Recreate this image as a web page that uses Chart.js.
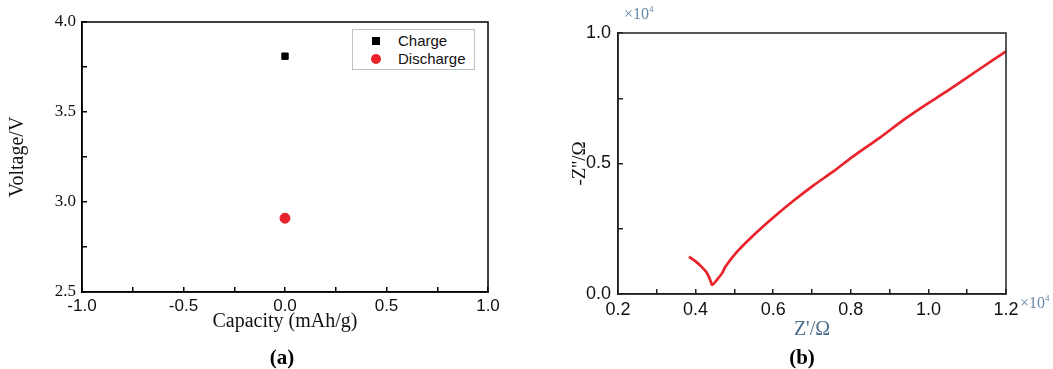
<!DOCTYPE html>
<html>
<head>
<meta charset="utf-8">
<script src="https://cdn.jsdelivr.net/npm/chart.js@4.4.1/dist/chart.umd.min.js"></script>
<style>
  body { margin: 0; background: #fff; width: 1053px; height: 369px; position: relative; overflow: hidden; }
  .panel { position: absolute; top: 0; height: 369px; }
  #wrapA { left: 0; width: 525px; }
  #wrapB { left: 525px; width: 528px; }
  .txt { position: absolute; font-family: "Liberation Serif", serif; white-space: nowrap; }
  .cap { font-weight: bold; font-size: 21px; transform: translate(-50%, -50%); }
  .mult { font-size: 16px; color: #6a88a6; }
  .mult sup { font-size: 9px; vertical-align: 7px; }
  #legend { position: absolute; left: 352px; top: 29px; width: 121px; height: 39px; border: 1px solid #b9c1c9; background: #fff;
            font-family: "Liberation Sans", Arial, sans-serif; font-size: 15px; color: #111; }
  #legend .row { position: absolute; left: 0; height: 18px; line-height: 18px; }
  #legend .mk { position: absolute; left: 19px; top: 5px; width: 8px; height: 8px; }
  #legend .lab { position: absolute; left: 45px; top: 0; }
</style>
</head>
<body>
<div class="panel" id="wrapA"><canvas id="chartA"></canvas></div>
<div class="panel" id="wrapB"><canvas id="chartB"></canvas></div>

<div id="legend">
  <div class="row" style="top:2px"><div class="mk" style="background:#000"></div><div class="lab">Charge</div></div>
  <div class="row" style="top:20px"><div class="mk" style="background:#e8232b;border-radius:50%;width:10px;height:10px;left:18px;top:4px"></div><div class="lab">Discharge</div></div>
</div>

<div class="txt cap" style="left:282px;top:357px">(a)</div>
<div class="txt cap" style="left:802px;top:357px">(b)</div>
<div class="txt mult" style="left:624px;top:4px">&times;10<sup>4</sup></div>
<div class="txt mult" style="left:1020px;top:293px">&times;10<sup>4</sup></div>

<script>
// panel (a): charge / discharge voltage at zero capacity
const capacityCharge = [0.0];
const voltageCharge = [3.81];
const capacityDischarge = [0.0];
const voltageDischarge = [2.91];

// panel (b): Nyquist plot, both axes in units of 10^4 ohm
const zReal = [0.383, 0.400, 0.415, 0.428, 0.436, 0.442, 0.447, 0.458, 0.468, 0.477, 0.507, 0.550, 0.601, 0.653, 0.704, 0.756, 0.807, 0.876, 0.936, 0.990, 1.048, 1.134, 1.200];
const zImag = [0.143, 0.125, 0.105, 0.083, 0.060, 0.036, 0.040, 0.060, 0.079, 0.105, 0.162, 0.226, 0.294, 0.358, 0.416, 0.471, 0.528, 0.600, 0.667, 0.722, 0.777, 0.864, 0.930];

const SERIF = '"Liberation Serif", "Times New Roman", serif';
const SANS = '"Liberation Sans", Arial, sans-serif';
const RED = '#e8232b';

// box around the plot area
const frame = {
  id: 'frame',
  afterDraw(chart, args, opts) {
    const { ctx, chartArea: a } = chart;
    ctx.save();
    ctx.strokeStyle = opts.color;
    ctx.lineWidth = opts.width;
    ctx.strokeRect(a.left, a.top, a.right - a.left, a.bottom - a.top);
    ctx.restore();
  },
};

function axis(opts) {
  // inward ticks, labels only on major steps
  return {
    type: 'linear',
    position: opts.position,
    min: opts.min,
    max: opts.max,
    afterFit: opts.fit,
    border: { display: true, color: opts.color, width: 1.5 },
    grid: { drawOnChartArea: false, drawTicks: true, tickLength: -5, color: opts.color, lineWidth: 1.5 },
    ticks: {
      stepSize: opts.step,
      padding: opts.pad,
      color: '#111',
      font: { family: opts.family, size: opts.size },
      callback: opts.label,
    },
    title: {
      display: true,
      text: opts.title,
      color: opts.titleColor || '#111',
      font: { family: SERIF, size: opts.titleSize || 20 },
      padding: opts.titlePad,
    },
  };
}

const pts = (xs, ys) => xs.map((x, i) => ({ x, y: ys[i] }));

new Chart(document.getElementById('chartA'), {
  type: 'scatter',
  data: {
    datasets: [
      { label: 'Charge', data: pts(capacityCharge, voltageCharge), pointStyle: 'rect', pointRadius: 4.5,
        backgroundColor: '#000', borderColor: '#000' },
      { label: 'Discharge', data: pts(capacityDischarge, voltageDischarge), pointStyle: 'circle', pointRadius: 5,
        backgroundColor: RED, borderColor: RED },
    ],
  },
  options: {
    responsive: true,
    maintainAspectRatio: false,
    animation: false,
    layout: { padding: { left: 0, top: 22, right: 37, bottom: 35 } },
    plugins: { legend: { display: false }, tooltip: { enabled: false }, frame: { color: '#000', width: 1.5 } },
    scales: {
      x: axis({
        position: 'bottom', min: -1, max: 1, step: 0.25, pad: 9, family: SANS, size: 17, color: '#000',
        fit: (s) => { s.height = 42; },
        label: (v) => (Math.abs(Math.round(v * 4)) % 2 === 0 ? v.toFixed(1) : ''),
        title: 'Capacity (mAh/g)', titlePad: { top: 0, bottom: 0 },
      }),
      y: axis({
        position: 'left', min: 2.5, max: 4.0, step: 0.25, pad: 11, family: SERIF, size: 17, color: '#000',
        fit: (s) => { s.width = 82; },
        label: (v) => (Math.round(v * 4) % 2 === 0 ? v.toFixed(1) : ''),
        title: 'Voltage/V', titlePad: { top: 6, bottom: 0 },
      }),
    },
  },
  plugins: [frame],
});

new Chart(document.getElementById('chartB'), {
  type: 'scatter',
  data: {
    datasets: [
      { label: 'EIS', data: pts(zReal, zImag), showLine: true, borderColor: RED, borderWidth: 2.7,
        pointRadius: 0, tension: 0.2, fill: false },
    ],
  },
  options: {
    responsive: true,
    maintainAspectRatio: false,
    animation: false,
    layout: { padding: { left: 40, top: 33, right: 47, bottom: 27 } },
    plugins: { legend: { display: false }, tooltip: { enabled: false }, frame: { color: '#222', width: 1.5 } },
    scales: {
      x: axis({
        position: 'bottom', min: 0.2, max: 1.2, step: 0.1, pad: 10, family: SANS, size: 18, color: '#222',
        fit: (s) => { s.height = 48; },
        label: (v) => (Math.round(v * 10) % 2 === 0 ? v.toFixed(1) : ''),
        title: "Z'/\u03a9", titleColor: '#4d6f90', titlePad: { top: 0, bottom: 0 },
      }),
      y: axis({
        position: 'left', min: 0, max: 1.0, step: 0.25, pad: 12, family: SANS, size: 18, color: '#222',
        fit: (s) => { s.width = 53; },
        label: (v) => (Math.round(v * 4) % 2 === 0 ? v.toFixed(1) : ''),
        title: "-Z''/\u03a9", titleSize: 19, titlePad: { top: 4, bottom: 0 },
      }),
    },
  },
  plugins: [frame],
});
</script>
</body>
</html>
